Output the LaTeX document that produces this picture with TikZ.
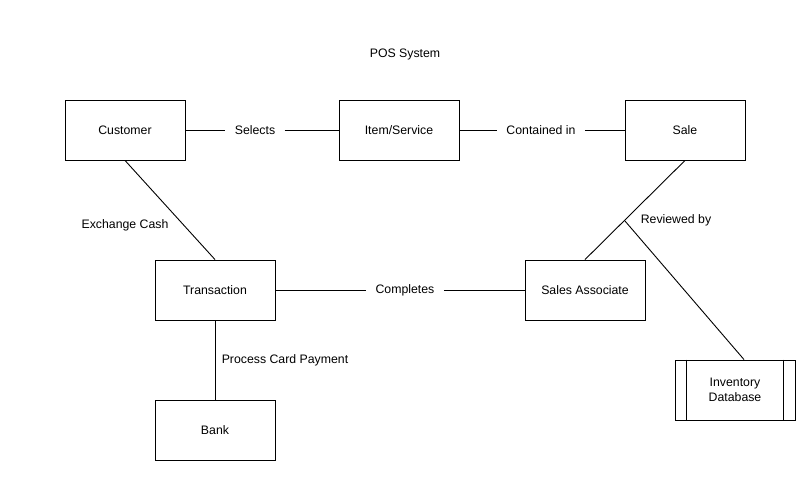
\documentclass[tikz,border=0pt]{standalone}
\usepackage{fontspec}
\setmainfont{Liberation Sans}
\begin{document}
\begin{tikzpicture}[x=1pt,y=-1pt,line width=0.9pt,
  mybox/.style={draw,minimum width=120,minimum height=60,inner sep=0},
  mylabel/.style={inner sep=9pt},
  every node/.style={font=\fontsize{12.3}{15}\selectfont}]
\useasboundingbox (0,0) rectangle (808,485);
\node (title) at (405,54) {POS System};
  \foreach \nm/\txt/\x/\y in {cust/Customer/125/130,item/Item\slash Service/399/130,sale/Sale/685/130,trans/Transaction/215/290,assoc/Sales Associate/585/290,bank/Bank/215/430}
  {  \node [mybox] (\nm) at (\x,\y) {\txt};}
\node [mybox,align=center] (inv) at (735,390) {Inventory\\Database};
\draw ([xshift=12]inv.north west) -- ([xshift=12]inv.south west)
      ([xshift=-12]inv.north east) -- ([xshift=-12]inv.south east);
\node [mylabel] (selects) at (255,130) {Selects};
\node [mylabel] (contained) at (541,130) {Contained in};
\node [mylabel] (completes) at (405,290) {Completes};
\draw (cust) -- (selects) -- (item);
\draw (item) -- (contained) -- (sale);
\draw (trans) -- (completes) -- (assoc);
\draw (cust.south) -- (trans.north);
\node (cash) at (125,225) {Exchange Cash};
\draw (trans.south) -- (bank.north);
\node (card) at (285,360) {Process Card Payment};
\draw (sale.south) -- (assoc.north);
\coordinate (review) at (625,221);
\draw (review) -- ([xshift=9]inv.north);
\node (reviewed) at (676,220) {Reviewed by};
\end{tikzpicture}
\end{document}
